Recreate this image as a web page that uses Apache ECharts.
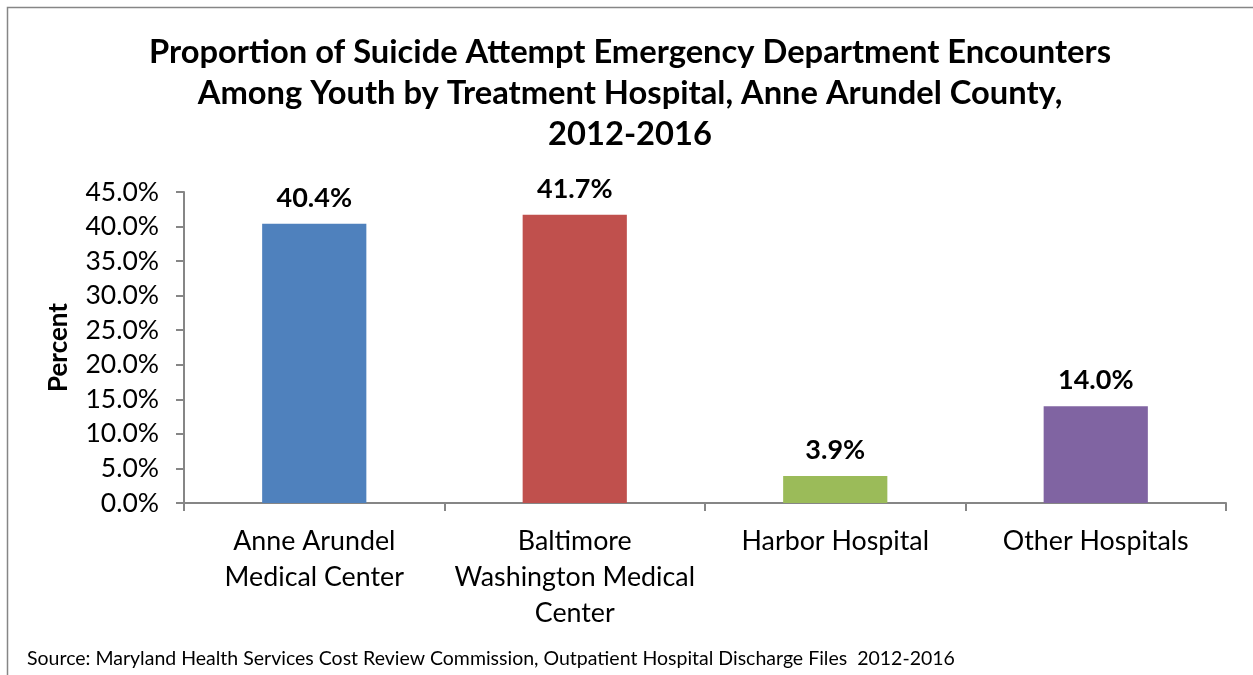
<!DOCTYPE html>
<html><head><meta charset="utf-8">
<script src="https://cdn.jsdelivr.net/npm/echarts@6/dist/echarts.min.js"></script>
<style>html,body{margin:0;padding:0;background:#fff}#c{width:1253px;height:675px}</style>
</head><body><div id="c"></div>
<script>
const categories = ['Anne Arundel\nMedical Center', 'Baltimore\nWashington Medical\nCenter', 'Harbor Hospital', 'Other Hospitals'];
const values = [40.4, 41.7, 3.9, 14.0];
const colors = ['#4F81BD', '#C0504D', '#9BBB59', '#8064A2'];
const titleText = 'Proportion of Suicide Attempt Emergency Department Encounters\nAmong Youth by Treatment Hospital, Anne Arundel County,\n2012-2016';
const sourceText = 'Source: Maryland Health Services Cost Review Commission, Outpatient Hospital Discharge Files  2012-2016';
const FONT = 'Lato';
const chart = echarts.init(document.getElementById('c'));
chart.setOption({
  animation: false,
  graphic: [
    {type:'rect', shape:{x:7.5,y:7.5,width:1300,height:700}, style:{fill:'none', stroke:'#868686', lineWidth:1.5}},
    {type:'text', left:27, top:649, style:{text:sourceText, fontFamily:FONT, fontSize:19.5, fill:'#000'}}
  ],
  title: {
    text: titleText, left: 625, textAlign: 'center', top: 27,
    textStyle: {fontFamily: FONT, fontWeight: 'bold', fontSize: 32.7, lineHeight: 41, color: '#000'}
  },
  grid: {left: 184, right: 27, top: 192, bottom: 172, containLabel: false},
  xAxis: {
    type: 'category', data: categories,
    axisLine: {lineStyle: {color: '#868686', width: 2}},
    axisTick: {show: true, length: 8, lineStyle: {color: '#868686', width: 2}, alignWithLabel: false},
    axisLabel: {fontFamily: FONT, fontSize: 26.8, color: '#000', lineHeight: 36, margin: 20, interval: 0}
  },
  yAxis: {
    type: 'value', min: 0, max: 45, interval: 5,
    name: 'Percent', nameLocation: 'middle', nameGap: 112, nameRotate: 90,
    nameTextStyle: {fontFamily: FONT, fontWeight: 'bold', fontSize: 26, color: '#000'},
    axisLine: {show: true, lineStyle: {color: '#868686', width: 2}},
    axisTick: {show: true, length: 8, lineStyle: {color: '#868686', width: 2}},
    splitLine: {show: false},
    axisLabel: {fontFamily: FONT, fontSize: 26.5, color: '#000', margin: 25, formatter: v => v.toFixed(1) + '%'}
  },
  series: [{
    type: 'bar', barWidth: '40%',
    data: values.map((v, i) => ({value: v, itemStyle: {color: colors[i]}})),
    label: {show: true, position: 'top', distance: 12, fontFamily: FONT, fontWeight: 'bold', fontSize: 27, color: '#000', formatter: p => p.value.toFixed(1) + '%'}
  }]
});
</script></body></html>
